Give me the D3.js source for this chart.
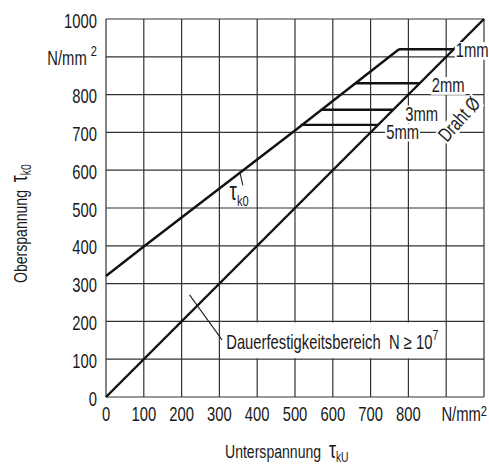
<!DOCTYPE html>
<html>
<head>
<meta charset="utf-8">
<script src="https://cdn.jsdelivr.net/npm/d3@7"></script>
<style>
  body { margin: 0; background: #fff; }
  svg text { font-family: "Liberation Sans", Arial, sans-serif; fill: #1a1a1a; }
</style>
</head>
<body>
<svg id="chart" width="489" height="464"></svg>
<script>
// values (N/mm2)
var gridValues = [0, 100, 200, 300, 400, 500, 600, 700, 800, 900, 1000];
var xTickValues = [0, 100, 200, 300, 400, 500, 600, 700, 800];
var yTickValues = [0, 100, 200, 300, 400, 500, 600, 700, 800, 1000];

// upper limit line tau_k0 and the lower line tau_kU = tau_k0
var upperX = [0, 100, 500, 775];
var upperY = [320, 398, 705, 920];
var lowerX = [0, 1000];
var lowerY = [0, 1000];

// wire diameters: horizontal cut-off lines
var wireLabels = ['1mm', '2mm', '3mm', '5mm'];
var wireStart = [775, 660, 572, 515];
var wireLevel = [920, 830, 760, 720];

var svg = d3.select('#chart');
var fs = 20;      // label size
var sx = 0.74;    // the drawing uses a narrow lettering, so squeeze the text
var sp = '\u00A0\u00A0';

var x = d3.scaleLinear().domain([0, 1000]).range([106, 484]);
var y = d3.scaleLinear().domain([0, 1000]).range([397, 19]);

// text inside a squeezed group, placed at px,py
function ctext(parent, px, py, anchor, size, rot) {
    var tr = 'translate(' + px + ',' + py + ')';
    if (rot) tr += ' rotate(' + rot + ')';
    tr += ' scale(' + sx + ',1)';
    var g = parent.append('g').attr('transform', tr);
    return g.append('text')
        .attr('text-anchor', anchor || 'start')
        .attr('font-size', size || fs);
}

// white patch behind a text so the grid does not run through it
function patch(t, pad) {
    var b = t.node().getBBox();
    d3.select(t.node().parentNode)
        .insert('rect', function() { return t.node(); })
        .attr('x', b.x - pad / sx)
        .attr('y', b.y + 3)
        .attr('width', b.width + 2 * pad / sx)
        .attr('height', b.height - 5)
        .attr('fill', '#fff');
}

// Grid
svg.append('g').selectAll('line')
    .data(gridValues)
    .enter()
    .append('line')
    .attr('x1', function(d) { return x(d); })
    .attr('x2', function(d) { return x(d); })
    .attr('y1', y(0))
    .attr('y2', y(1000))
    .attr('stroke', '#333')
    .attr('stroke-width', 1.2);

svg.append('g').selectAll('line')
    .data(gridValues)
    .enter()
    .append('line')
    .attr('y1', function(d) { return y(d); })
    .attr('y2', function(d) { return y(d); })
    .attr('x1', x(0))
    .attr('x2', x(1000))
    .attr('stroke', '#333')
    .attr('stroke-width', 1.2);

var labels = svg.append('g');

// wire labels, offsets from the right end of each cut-off line
var wireDx = [2, 12, 12, 8];
var wireDy = [8, 9, 11, 14];
var wireText = [];
wireLabels.forEach(function(s, i) {
    var t = ctext(labels, x(wireLevel[i]) + wireDx[i], y(wireLevel[i]) + wireDy[i]).text(s);
    wireText.push(t);
    if (i > 0) patch(t, 1);
});

// Draht diameter label, rotated along the diagonal
var dt = ctext(labels, 459, 119, 'middle', fs, -48)
    .attr('y', 7)
    .text('Draht \u00D8');
patch(dt, 1);

// endurance region label sits in a blanked grid cell
labels.append('rect')
    .attr('x', x(300) + 1)
    .attr('y', y(200) + 1)
    .attr('width', x(900) - x(300) - 2)
    .attr('height', y(100) - y(200) - 2)
    .attr('fill', '#fff');

var dl = ctext(labels, x(318), y(128));
dl.append('tspan').text('Dauerfestigkeitsbereich' + sp + 'N \u2265 10');
dl.append('tspan').attr('font-size', 14).attr('dy', -9).text('7');

// Heavy lines
var line = d3.line()
    .x(function(d) { return x(d[0]); })
    .y(function(d) { return y(d[1]); });

var heavy = svg.append('g')
    .attr('fill', 'none')
    .attr('stroke', '#111')
    .attr('stroke-width', 2.4);

heavy.append('path').attr('d', line(d3.zip(upperX, upperY)));
heavy.append('path').attr('d', line(d3.zip(lowerX, lowerY)));

heavy.selectAll('line')
    .data(wireLevel)
    .enter()
    .append('line')
    .attr('x1', function(d, i) { return x(wireStart[i]); })
    .attr('x2', function(d) { return x(d); })
    .attr('y1', function(d) { return y(d); })
    .attr('y2', function(d) { return y(d); });

// the 1mm label breaks the diagonal, so it goes on top
var top1 = wireText[0].node().parentNode;
svg.node().appendChild(top1);
patch(wireText[0], 1);

// leaders
var leaders = svg.append('g').attr('stroke', '#222').attr('stroke-width', 1.1);
leaders.append('line')
    .attr('x1', x(221)).attr('y1', y(270))
    .attr('x2', x(307)).attr('y2', y(151));
leaders.append('line')
    .attr('x1', x(354)).attr('y1', y(596))
    .attr('x2', x(362)).attr('y2', y(560));

var tk = ctext(svg, x(327), y(522));
tk.append('tspan').attr('font-size', 25).text('\u03C4');
tk.append('tspan').attr('font-size', 15).attr('dy', 6).text('k0');

// y axis labels
var yAxis = svg.append('g');
yTickValues.forEach(function(d) {
    ctext(yAxis, 97, y(d) + 8.5, 'end').text(d);
});
var yu = ctext(yAxis, 97, y(900) + 8, 'end');
yu.append('tspan').text('N/mm\u00A0');
yu.append('tspan').attr('font-size', 15).attr('dy', -9).text('2');

// x axis labels
var xAxis = svg.append('g');
xTickValues.forEach(function(d) {
    ctext(xAxis, x(d), 421, 'middle').text(d);
});
var xu = ctext(xAxis, 487, 421, 'end');
xu.append('tspan').text('N/mm');
xu.append('tspan').attr('font-size', 15).attr('dy', -5).text('2');

// axis titles
var xt = ctext(svg, 225, 458, 'start', 19);
xt.append('tspan').text('Unterspannung' + sp);
xt.append('tspan').attr('font-size', 24).text('\u03C4');
xt.append('tspan').attr('font-size', 14).attr('dy', 4).text('kU');

var yt = ctext(svg, 27, 283, 'start', 19, -90);
yt.append('tspan').text('Oberspannung' + sp);
yt.append('tspan').attr('font-size', 24).text('\u03C4');
yt.append('tspan').attr('font-size', 14).attr('dy', 4).text('k0');
</script>
</body>
</html>
